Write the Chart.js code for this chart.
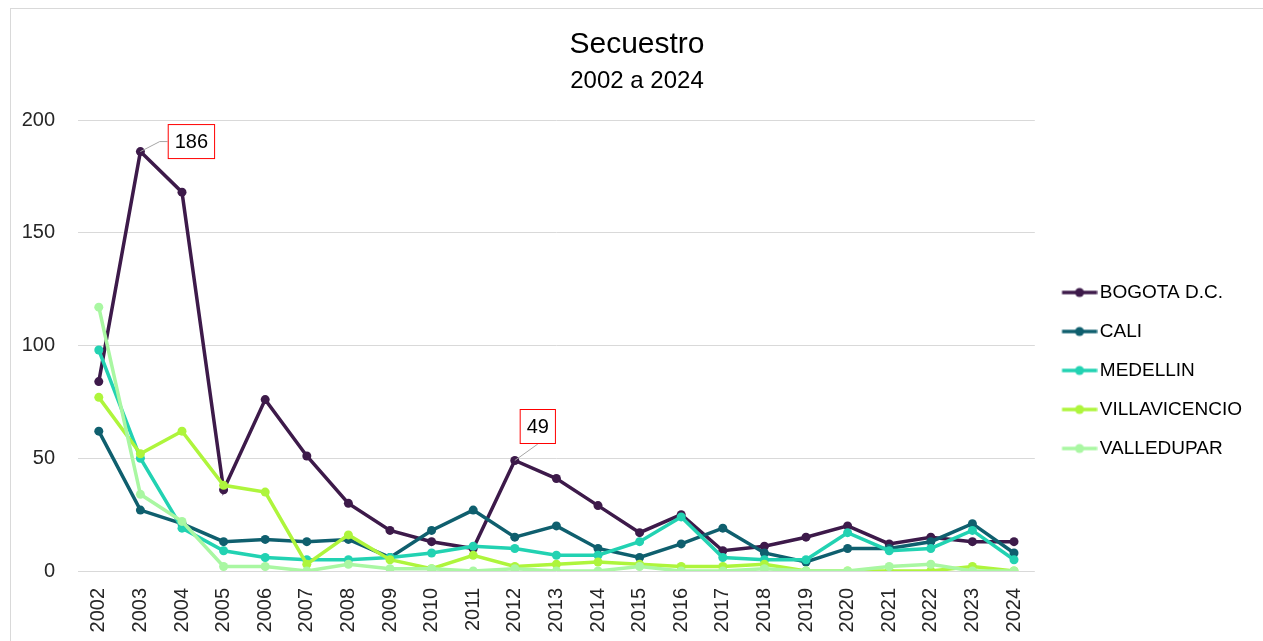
<!DOCTYPE html>
<html>
<head>
<meta charset="utf-8">
<script src="https://cdn.jsdelivr.net/npm/chart.js@4.4.1/dist/chart.umd.min.js"></script>
<style>
  html, body { margin: 0; padding: 0; background: #ffffff; overflow: hidden; }
  #frame { position: absolute; left: 10px; top: 8px; width: 1300px; height: 700px; border: 1px solid #d9d9d9; box-sizing: border-box; }
  #wrap { position: absolute; left: 0; top: 0; width: 1263px; height: 641px; }
</style>
</head>
<body>
<div id="frame"></div>
<div id="wrap"><canvas id="c" width="1263" height="641"></canvas></div>
<script>
const years = ["2002","2003","2004","2005","2006","2007","2008","2009","2010","2011","2012","2013","2014","2015","2016","2017","2018","2019","2020","2021","2022","2023","2024"];
const bogota       = [84,186,168,36,76,51,30,18,13,10,49,41,29,17,25,9,11,15,20,12,15,13,13];
const cali         = [62,27,21,13,14,13,14,6,18,27,15,20,10,6,12,19,8,4,10,10,13,21,8];
const medellin     = [98,50,19,9,6,5,5,6,8,11,10,7,7,13,24,6,5,5,17,9,10,18,5];
const villavicencio= [77,52,62,38,35,3,16,5,1,7,2,3,4,3,2,2,3,0,0,0,0,2,0];
const valledupar   = [117,34,22,2,2,0,3,1,1,0,1,0,0,2,0,0,1,0,0,2,3,0,0];
const seriesNames  = ["BOGOTA D.C.","CALI","MEDELLIN","VILLAVICENCIO","VALLEDUPAR"];
const yTicks       = [0,50,100,150,200];
const titleText    = "Secuestro";
const subtitleText = "2002 a 2024";

const colors = ["#3d1a4a","#0f5f6e","#22d2b2","#aef53c","#a9f7a2"];
const seriesData = [bogota, cali, medellin, villavicencio, valledupar];

// annotated callouts (series index, point index, box offset)
const callouts = [
  {series: 0, index: 1, dx: 51, dy: -10, anchor: "left"},
  {series: 0, index: 10, dx: 23, dy: -34, anchor: "bottom"}
];

const FONT = "'Liberation Sans', Arial, sans-serif";

function legendMarker(color) {
  const c = document.createElement("canvas");
  c.width = 50; c.height = 12;
  const g = c.getContext("2d");
  g.strokeStyle = color; g.lineWidth = 3.5; g.lineCap = "butt";
  g.beginPath(); g.moveTo(14.5, 6); g.lineTo(49.5, 6); g.stroke();
  g.fillStyle = color;
  g.beginPath(); g.arc(32, 6, 4.5, 0, Math.PI * 2); g.fill();
  return c;
}
const markers = colors.map(legendMarker);

const calloutPlugin = {
  id: "callouts",
  afterDatasetsDraw(chart) {
    const ctx = chart.ctx;
    ctx.save();
    ctx.font = "20px " + FONT;
    callouts.forEach(co => {
      const meta = chart.getDatasetMeta(co.series);
      const pt = meta.data[co.index];
      const val = chart.data.datasets[co.series].data[co.index];
      const txt = String(val);
      const tw = ctx.measureText(txt).width;
      const bw = tw + 14, bh = 35;
      const cx = pt.x + co.dx, cy = pt.y + co.dy;
      const bx = cx - bw / 2, by = cy - bh / 2;
      ctx.strokeStyle = "#a6a6a6"; ctx.lineWidth = 1;
      ctx.beginPath();
      if (co.anchor === "left") {
        ctx.moveTo(pt.x, pt.y); ctx.lineTo(bx - 8, cy); ctx.lineTo(bx, cy);
      } else {
        ctx.moveTo(pt.x, pt.y); ctx.lineTo(cx, by + bh);
      }
      ctx.stroke();
      ctx.fillStyle = "#ffffff";
      ctx.fillRect(bx, by, bw, bh);
      ctx.strokeStyle = "#ff0000"; ctx.lineWidth = 1;
      ctx.strokeRect(bx + 0.5, by + 0.5, bw - 1, bh - 1);
      ctx.fillStyle = "#000000";
      ctx.textAlign = "center"; ctx.textBaseline = "middle";
      ctx.fillText(txt, cx, cy + 1);
    });
    ctx.restore();
  }
};

const datasets = seriesNames.map((name, i) => ({
  label: name,
  data: seriesData[i],
  borderColor: colors[i],
  backgroundColor: colors[i],
  pointBackgroundColor: colors[i],
  pointBorderColor: colors[i],
  borderWidth: 3.5,
  pointRadius: 4.5,
  pointBorderWidth: 0,
  pointStyle: "circle",
  tension: 0,
  order: seriesNames.length - i
}));

new Chart(document.getElementById("c"), {
  type: "line",
  data: { labels: years, datasets },
  options: {
    responsive: false,
    animation: false,
    devicePixelRatio: 1,
    layout: { padding: { left: 22, right: 11, top: 14, bottom: 8 } },
    plugins: {
      title: {
        display: true, text: titleText, color: "#000000",
        font: { family: FONT, size: 30, weight: "normal" },
        padding: { top: 13, bottom: 4 }
      },
      subtitle: {
        display: true, text: subtitleText, color: "#000000",
        font: { family: FONT, size: 24, weight: "normal" },
        padding: { top: 0, bottom: 24.2 }
      },
      legend: {
        position: "right",
        align: "center",
        title: { display: true, text: "", font: { family: FONT, size: 12, lineHeight: 1 }, padding: { top: 82, bottom: 0 } },
        labels: {
          usePointStyle: true,
          pointStyleWidth: 35.5,
          padding: 20,
          color: "#000000",
          font: { family: FONT, size: 19 },
          sort: (a, b) => a.datasetIndex - b.datasetIndex,
          generateLabels: (chart) => chart.data.datasets.map((ds, i) => ({
            text: ds.label, datasetIndex: i, pointStyle: markers[i], fontColor: "#000000",
            fillStyle: ds.borderColor, strokeStyle: ds.borderColor, lineWidth: 0, hidden: false
          }))
        }
      },
      tooltip: { enabled: false }
    },
    scales: {
      x: {
        type: "category",
        offset: true,
        grid: { display: false, drawTicks: false },
        border: { display: false },
        afterFit: (axis) => { axis.height = 62; },
        ticks: {
          color: "#262626", font: { family: FONT, size: 20 },
          minRotation: 90, maxRotation: 90, padding: 17, autoSkip: false
        }
      },
      y: {
        min: 0, max: 200,
        afterBuildTicks: (axis) => { axis.ticks = yTicks.map(v => ({ value: v })); },
        afterFit: (axis) => { axis.width = 56; },
        grid: { color: "#d9d9d9", lineWidth: 1, drawTicks: false },
        border: { display: false },
        ticks: { color: "#262626", font: { family: FONT, size: 20 }, padding: 23 }
      }
    }
  },
  plugins: [calloutPlugin]
});
</script>
</body>
</html>
